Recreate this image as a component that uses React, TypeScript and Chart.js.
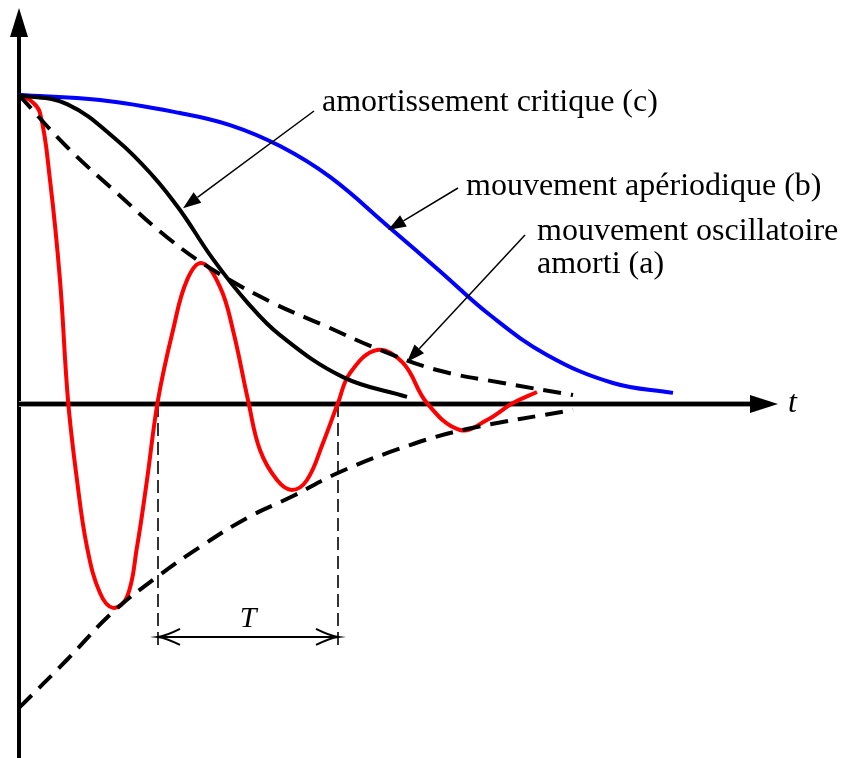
import React, { useEffect, useRef } from "react";
import { Chart, registerables } from "chart.js";

Chart.register(...registerables);

const W = 841;
const H = 758;

// Time axis in arbitrary units; displacement normalised to the initial value 1.
const X_MIN = 0;
const X_MAX = 7.59;
const Y_MIN = -1.146;
const Y_MAX = 1.282;

// (a) damped oscillation
const tOsc = [0, 0.11, 0.21, 0.31, 0.41, 0.49, 0.58, 0.68, 0.81, 0.94, 1.08, 1.18, 1.28, 1.39, 1.54, 1.68, 1.83, 2.01, 2.14, 2.29, 2.41, 2.58, 2.73, 2.88, 3.04, 3.19, 3.31, 3.58, 3.84, 4.08, 4.41, 4.68, 4.94, 5.18];
const xOsc = [1, 0.984, 0.942, 0.725, 0.401, 0.013, -0.246, -0.463, -0.612, -0.66, -0.625, -0.463, -0.246, 0.013, 0.239, 0.401, 0.456, 0.379, 0.239, 0.013, -0.149, -0.246, -0.278, -0.246, -0.126, 0.003, 0.1, 0.175, 0.133, 0.003, -0.084, -0.052, 0.003, 0.039];

// (b) aperiodic motion
const tAper = [0, 0.81, 1.61, 2.11, 2.61, 3.11, 3.71, 4.21, 4.71, 5.28, 5.94, 6.54];
const xAper = [1, 0.984, 0.942, 0.903, 0.835, 0.735, 0.57, 0.43, 0.288, 0.159, 0.068, 0.036];

// (c) critical damping
const tCrit = [0, 0.48, 0.98, 1.34, 1.61, 1.94, 2.28, 2.61, 3.24, 3.88];
const xCrit = [1, 0.971, 0.854, 0.738, 0.628, 0.469, 0.33, 0.223, 0.087, 0.023];

// exponential envelopes of (a)
const tEnvUp = [0, 0.48, 0.98, 1.48, 1.94, 2.54, 3.04, 3.61, 4.18, 4.84, 5.54];
const xEnvUp = [1, 0.832, 0.683, 0.54, 0.434, 0.327, 0.256, 0.175, 0.11, 0.068, 0.029];
const tEnvDown = [0, 0.48, 0.94, 1.38, 1.81, 2.28, 2.74, 3.21, 3.91, 4.48, 5.54];
const xEnvDown = [-0.984, -0.828, -0.673, -0.56, -0.463, -0.369, -0.298, -0.22, -0.133, -0.081, -0.019];

// pseudo-period T, between two zero crossings of (a)
const T_START = 1.39;
const T_END = 3.19;
const T_LEVEL = -0.754;

// callout tips, in data coordinates
const TIP_C = { t: 1.64, v: 0.634 };
const TIP_B = { t: 3.69, v: 0.563 };
const TIP_A = { t: 3.88, v: 0.136 };

const LABEL_C = "amortissement critique (c)";
const LABEL_B = "mouvement apériodique (b)";
const LABEL_A1 = "mouvement oscillatoire";
const LABEL_A2 = "amorti (a)";

const SERIF = '"Liberation Serif", "DejaVu Serif", serif';

const zip = (ts: number[], vs: number[]) => ts.map((t, i) => ({ x: t, y: vs[i] }));

function filledArrow(ctx: CanvasRenderingContext2D, x1: number, y1: number, x2: number, y2: number) {
  const ang = Math.atan2(y2 - y1, x2 - x1);
  const len = 18;
  const half = 6.5;
  const bx = x2 - len * Math.cos(ang);
  const by = y2 - len * Math.sin(ang);
  ctx.beginPath();
  ctx.moveTo(x1, y1);
  ctx.lineTo(bx, by);
  ctx.lineWidth = 1.5;
  ctx.strokeStyle = "#000";
  ctx.stroke();
  ctx.beginPath();
  ctx.moveTo(x2, y2);
  ctx.lineTo(bx + half * Math.sin(ang), by - half * Math.cos(ang));
  ctx.lineTo(bx - half * Math.sin(ang), by + half * Math.cos(ang));
  ctx.closePath();
  ctx.fillStyle = "#000";
  ctx.fill();
}

function openHead(ctx: CanvasRenderingContext2D, tipX: number, tipY: number, dir: number) {
  ctx.beginPath();
  ctx.moveTo(tipX - dir * 22, tipY - 8);
  ctx.quadraticCurveTo(tipX - dir * 8, tipY - 1, tipX, tipY);
  ctx.quadraticCurveTo(tipX - dir * 8, tipY + 1, tipX - dir * 22, tipY + 8);
  ctx.stroke();
}

const decor = {
  id: "decor",
  beforeDatasetsDraw(chart: any) {
    const { ctx, chartArea, scales } = chart;
    const xs = scales.x;
    const ys = scales.y;
    const x0 = xs.getPixelForValue(0);
    const y0 = ys.getPixelForValue(0);
    ctx.save();

    // vertical axis with arrow
    ctx.strokeStyle = "#000";
    ctx.lineWidth = 4;
    ctx.beginPath();
    ctx.moveTo(x0, H);
    ctx.lineTo(x0, chartArea.top + 26);
    ctx.stroke();
    ctx.beginPath();
    ctx.moveTo(x0, chartArea.top);
    ctx.lineTo(x0 - 9, chartArea.top + 29);
    ctx.lineTo(x0 + 9, chartArea.top + 29);
    ctx.closePath();
    ctx.fillStyle = "#000";
    ctx.fill();

    // time axis with arrow
    ctx.strokeStyle = "#9a9a9a";
    ctx.lineWidth = 6;
    ctx.beginPath();
    ctx.moveTo(x0, y0);
    ctx.lineTo(chartArea.right - 26, y0);
    ctx.stroke();
    ctx.strokeStyle = "#000";
    ctx.lineWidth = 4;
    ctx.beginPath();
    ctx.moveTo(x0 - 2, y0);
    ctx.lineTo(chartArea.right - 26, y0);
    ctx.stroke();
    ctx.beginPath();
    ctx.moveTo(chartArea.right, y0);
    ctx.lineTo(chartArea.right - 28, y0 - 9);
    ctx.lineTo(chartArea.right - 28, y0 + 9);
    ctx.closePath();
    ctx.fill();

    ctx.font = `italic 32px ${SERIF}`;
    ctx.textBaseline = "alphabetic";
    ctx.textAlign = "left";
    ctx.fillText("t", chartArea.right + 10, y0 + 8);

    // pseudo-period markers
    const xa = xs.getPixelForValue(T_START);
    const xb = xs.getPixelForValue(T_END);
    const yT = ys.getPixelForValue(T_LEVEL);
    ctx.lineWidth = 1.6;
    ctx.setLineDash([13, 6]);
    [xa, xb].forEach((px) => {
      ctx.beginPath();
      ctx.moveTo(px, y0);
      ctx.lineTo(px, yT + 9);
      ctx.stroke();
    });
    ctx.setLineDash([]);
    ctx.lineWidth = 2;
    ctx.beginPath();
    ctx.moveTo(xa, yT);
    ctx.lineTo(xb, yT);
    ctx.stroke();
    openHead(ctx, xa, yT, -1);
    openHead(ctx, xb, yT, 1);
    ctx.font = `italic 30px ${SERIF}`;
    ctx.textAlign = "center";
    ctx.fillText("T", (xa + xb) / 2, yT - 10);
    ctx.restore();
  },
  afterDatasetsDraw(chart: any) {
    const { ctx, scales } = chart;
    const px = (p: { t: number; v: number }) => [scales.x.getPixelForValue(p.t), scales.y.getPixelForValue(p.v)];
    ctx.save();
    const [cx, cy] = px(TIP_C);
    filledArrow(ctx, 314, 111, cx, cy);
    const [bx, by] = px(TIP_B);
    filledArrow(ctx, 458, 188, bx, by);
    const [ax, ay] = px(TIP_A);
    filledArrow(ctx, 525, 235, ax, ay);

    ctx.fillStyle = "#000";
    ctx.font = `32px ${SERIF}`;
    ctx.textAlign = "left";
    ctx.textBaseline = "alphabetic";
    ctx.fillText(LABEL_C, 322, 111);
    ctx.fillText(LABEL_B, 466, 195);
    ctx.fillText(LABEL_A1, 537, 240);
    ctx.fillText(LABEL_A2, 537, 273);
    ctx.restore();
  },
};

export default function App() {
  const ref = useRef<HTMLCanvasElement | null>(null);

  useEffect(() => {
    if (!ref.current) return;
    const dash = [18, 10];
    const base = {
      pointRadius: 0,
      borderWidth: 4,
      fill: false,
      clip: false as const,
      tension: 0.4,
      borderJoinStyle: "round" as const,
    };
    const chart = new Chart(ref.current, {
      type: "line",
      data: {
        datasets: [
          { ...base, label: "enveloppe +", data: zip(tEnvUp, xEnvUp), borderColor: "#000", borderDash: dash },
          { ...base, label: "enveloppe -", data: zip(tEnvDown, xEnvDown), borderColor: "#000", borderDash: dash },
          { ...base, label: "critique", data: zip(tCrit, xCrit), borderColor: "#000" },
          { ...base, label: "apériodique", data: zip(tAper, xAper), borderColor: "#0000ff" },
          { ...base, label: "oscillatoire", data: zip(tOsc, xOsc), borderColor: "#ff0000" },
        ],
      },
      options: {
        animation: false,
        responsive: false,
        layout: { padding: { left: 19, right: 63, top: 8, bottom: 0 } },
        plugins: { legend: { display: false }, tooltip: { enabled: false }, title: { display: false } },
        events: [],
        scales: {
          x: { type: "linear", min: X_MIN, max: X_MAX, display: false },
          y: { type: "linear", min: Y_MIN, max: Y_MAX, display: false },
        },
      },
      plugins: [decor],
    });
    return () => chart.destroy();
  }, []);

  return (
    <div style={{ position: "absolute", left: 0, top: 0, width: W, height: H, background: "#fff" }}>
      <canvas ref={ref} width={W} height={H} style={{ display: "block" }} />
    </div>
  );
}
